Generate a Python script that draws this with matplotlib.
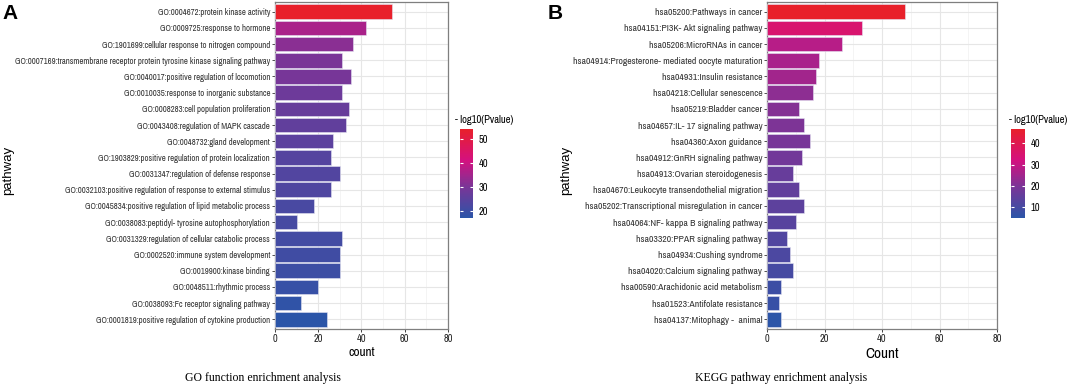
import numpy as np
import matplotlib
matplotlib.use("Agg")
import matplotlib.pyplot as plt
from matplotlib import font_manager
from matplotlib.colors import LinearSegmentedColormap, Normalize
from matplotlib.cm import ScalarMappable

# look for a narrow sans font, otherwise fall back to Liberation Sans at a smaller size
narrow = None
for f in font_manager.fontManager.ttflist:
    if ("Narrow" in f.name or "Condensed" in f.name) and "Serif" not in f.name and "Mono" not in f.name:
        narrow = f.name
        break
if narrow:
    label_font = [narrow, "DejaVu Sans"]
    lab_size = 7.0
else:
    label_font = ["Liberation Sans", "DejaVu Sans"]
    lab_size = 5.7

plt.rcParams['font.family'] = ["Liberation Sans", "DejaVu Sans"]

# GO terms (top to bottom)
go_terms = [
    "GO:0004672:protein kinase activity",
    "GO:0009725:response to hormone",
    "GO:1901699:cellular response to nitrogen compound",
    "GO:0007169:transmembrane receptor protein tyrosine kinase signaling pathway",
    "GO:0040017:positive regulation of locomotion",
    "GO:0010035:response to inorganic substance",
    "GO:0008283:cell population proliferation",
    "GO:0043408:regulation of MAPK cascade",
    "GO:0048732:gland development",
    "GO:1903829:positive regulation of protein localization",
    "GO:0031347:regulation of defense response",
    "GO:0032103:positive regulation of response to external stimulus",
    "GO:0045834:positive regulation of lipid metabolic process",
    "GO:0038083:peptidyl- tyrosine autophosphorylation",
    "GO:0031329:regulation of cellular catabolic process",
    "GO:0002520:immune system development",
    "GO:0019900:kinase binding",
    "GO:0048511:rhythmic process",
    "GO:0038093:Fc receptor signaling pathway",
    "GO:0001819:positive regulation of cytokine production",
]
go_count = [54, 42, 36, 31, 35, 31, 34, 33, 27, 26, 30, 26, 18, 10, 31, 30, 30, 20, 12, 24]
go_logp = [54, 36, 32, 30, 29.5, 28, 27, 26, 25, 24, 23.5, 23, 22, 21.5, 21, 20.5, 20, 19, 18, 17]

# KEGG pathways (top to bottom)
kegg_terms = [
    "hsa05200:Pathways in cancer",
    "hsa04151:PI3K- Akt signaling pathway",
    "hsa05206:MicroRNAs in cancer",
    "hsa04914:Progesterone- mediated oocyte maturation",
    "hsa04931:Insulin resistance",
    "hsa04218:Cellular senescence",
    "hsa05219:Bladder cancer",
    "hsa04657:IL- 17 signaling pathway",
    "hsa04360:Axon guidance",
    "hsa04912:GnRH signaling pathway",
    "hsa04913:Ovarian steroidogenesis",
    "hsa04670:Leukocyte transendothelial migration",
    "hsa05202:Transcriptional misregulation in cancer",
    "hsa04064:NF- kappa B signaling pathway",
    "hsa03320:PPAR signaling pathway",
    "hsa04934:Cushing syndrome",
    "hsa04020:Calcium signaling pathway",
    "hsa00590:Arachidonic acid metabolism",
    "hsa01523:Antifolate resistance",
    "hsa04137:Mitophagy -  animal",
]
kegg_count = [48, 33, 26, 18, 17, 16, 11, 13, 15, 12, 9, 11, 13, 10, 7, 8, 9, 5, 4, 5]
kegg_logp = [47, 35, 28, 26, 25, 22, 21, 20, 19, 18, 16, 15, 14, 13, 12, 11, 10, 8, 7, 5]

cmap = LinearSegmentedColormap.from_list(
    "pv", [(0, "#2b55a8"), (0.35, "#7a3597"), (0.65, "#d4117f"), (1, "#e8202a")])

fig = plt.figure(figsize=(10.72, 3.90), dpi=100)


def panel(ax_rect, cb_rect, terms, counts, logp, vmin, vmax, cticks, xlab, xlab_size):
    ax = fig.add_axes(ax_rect)
    n = len(terms)
    ypos = np.arange(n)[::-1] + 1
    norm = Normalize(vmin, vmax)
    ax.barh(ypos, counts, height=0.9, color=cmap(norm(np.array(logp))),
            edgecolor="#e4e4f2", linewidth=0.4, zorder=3)
    ax.set_xlim(0, 80)
    ax.set_ylim(0.4, n + 0.6)
    ax.set_yticks(ypos)
    ax.set_yticklabels(terms, fontsize=lab_size, color="#222222", family=label_font)
    ax.set_xticks([0, 20, 40, 60, 80])
    ax.set_xticks([10, 30, 50, 70], minor=True)
    ax.tick_params(axis="x", labelsize=7.5, colors="#222222", length=2.5, width=0.6, pad=1)
    ax.tick_params(axis="x", which="minor", length=0)
    ax.tick_params(axis="y", length=2.5, width=0.6, colors="#333333", pad=1)
    for t in ax.get_xticklabels():
        t.set_family(label_font)
    ax.grid(True, which="major", color="#e6e6e6", linewidth=0.8, zorder=0)
    ax.grid(True, which="minor", axis="x", color="#f0f0f0", linewidth=0.5, zorder=0)
    ax.set_axisbelow(True)
    for s in ax.spines.values():
        s.set_color("#7f7f7f")
        s.set_linewidth(0.9)
    ax.set_xlabel(xlab, fontsize=xlab_size, labelpad=2, family=label_font)

    cax = fig.add_axes(cb_rect)
    cb = fig.colorbar(ScalarMappable(norm=norm, cmap=cmap), cax=cax)
    cb.outline.set_visible(False)
    cb.set_ticks(cticks)
    cax.tick_params(direction="in", color="white", length=2.5, width=0.8,
                    labelsize=7.5, pad=4, left=True)
    for t in cax.get_yticklabels():
        t.set_family(label_font)
    return ax, cax


axA, caxA = panel([0.2565, 0.1564, 0.1614, 0.8385], [0.4291, 0.441, 0.0121, 0.228],
                  go_terms, go_count, go_logp, 17, 54.2, [20, 30, 40, 50], "count", 9.5)

axB, caxB = panel([0.7155, 0.1564, 0.2146, 0.8385], [0.9431, 0.441, 0.0131, 0.228],
                  kegg_terms, kegg_count, kegg_logp, 4.8, 46.7, [10, 20, 30, 40], "Count", 11)

# shrink the GO labels so the longest one fits the left margin (about 259 px)
fig.canvas.draw()
r = fig.canvas.get_renderer()
widest = max(t.get_window_extent(r).width for t in axA.get_yticklabels())
for t in axA.get_yticklabels():
    t.set_fontsize(lab_size * 257 / widest)

fig.text(8 / 1072, 1 - 170 / 390, "pathway", fontsize=9.5, rotation=90, va="center", ha="center")
fig.text(566 / 1072, 1 - 170 / 390, "pathway", fontsize=9.5, rotation=90, va="center", ha="center")

fig.text(455 / 1072, 1 - 120 / 390, "- log10(Pvalue)", fontsize=lab_size + 0.6,
         va="center", ha="left", family=label_font)
fig.text(1009 / 1072, 1 - 120 / 390, "- log10(Pvalue)", fontsize=lab_size + 0.6,
         va="center", ha="left", family=label_font)

fig.text(0.002, 0.99, "A", fontsize=15, fontweight="bold", va="top", ha="left")
fig.text(548 / 1072, 0.99, "B", fontsize=15, fontweight="bold", va="top", ha="left")

fig.text(263 / 1072, 1 - 378 / 390, "GO function enrichment analysis", fontsize=8.5,
         ha="center", va="center", family=["Liberation Serif", "DejaVu Serif"])
fig.text(781 / 1072, 1 - 378 / 390, "KEGG pathway enrichment analysis", fontsize=8.5,
         ha="center", va="center", family=["Liberation Serif", "DejaVu Serif"])

fig.savefig("out.png", dpi=100)
